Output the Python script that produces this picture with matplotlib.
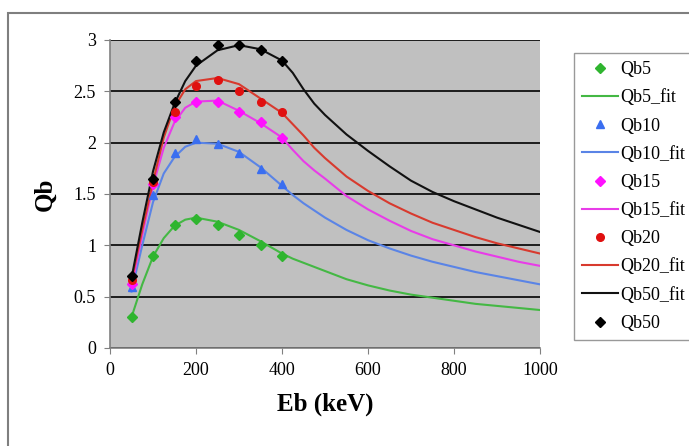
import matplotlib
matplotlib.use("Agg")
import matplotlib.pyplot as plt
from matplotlib.patches import Rectangle

plt.rcParams["font.family"] = ["Liberation Serif", "DejaVu Serif"]

# measured points
eb = [50, 100, 150, 200, 250, 300, 350, 400]
qb5 = [0.30, 0.90, 1.20, 1.26, 1.20, 1.10, 1.00, 0.90]
qb10 = [0.59, 1.49, 1.90, 2.04, 1.99, 1.90, 1.74, 1.60]
qb15 = [0.62, 1.60, 2.25, 2.40, 2.40, 2.30, 2.20, 2.05]
qb20 = [0.66, 1.62, 2.30, 2.55, 2.61, 2.50, 2.40, 2.30]
qb50 = [0.70, 1.65, 2.40, 2.80, 2.95, 2.95, 2.90, 2.80]

# fitted curves
eb_fit = [50, 75, 100, 125, 150, 175, 200, 250, 300, 350, 400, 425, 450, 475,
          500, 550, 600, 650, 700, 750, 800, 850, 900, 950, 1000]
qb5_fit = [0.30, 0.62, 0.89, 1.07, 1.19, 1.25, 1.27, 1.23, 1.15, 1.04, 0.92, 0.87, 0.83, 0.79,
           0.75, 0.67, 0.61, 0.56, 0.52, 0.49, 0.46, 0.43, 0.41, 0.39, 0.37]
qb10_fit = [0.55, 1.00, 1.42, 1.70, 1.86, 1.96, 2.00, 1.99, 1.91, 1.76, 1.58, 1.49, 1.41, 1.34,
            1.27, 1.15, 1.05, 0.97, 0.90, 0.84, 0.79, 0.74, 0.70, 0.66, 0.62]
qb15_fit = [0.60, 1.10, 1.58, 1.95, 2.20, 2.34, 2.40, 2.41, 2.31, 2.19, 2.05, 1.93, 1.82, 1.73,
            1.65, 1.48, 1.35, 1.24, 1.14, 1.06, 1.00, 0.94, 0.89, 0.84, 0.80]
qb20_fit = [0.65, 1.15, 1.62, 2.05, 2.35, 2.52, 2.60, 2.63, 2.57, 2.43, 2.29, 2.18, 2.07, 1.95,
            1.85, 1.67, 1.53, 1.41, 1.31, 1.22, 1.15, 1.08, 1.02, 0.97, 0.92]
qb50_fit = [0.68, 1.22, 1.72, 2.10, 2.38, 2.60, 2.75, 2.90, 2.95, 2.91, 2.80, 2.68, 2.52, 2.38,
            2.27, 2.08, 1.92, 1.77, 1.63, 1.52, 1.43, 1.35, 1.27, 1.20, 1.13]

fig = plt.figure(figsize=(6.89, 4.46), dpi=100)
ax = fig.add_axes([110 / 689, 1 - 348 / 446, 430 / 689, 308 / 446])
ax.set_facecolor("#c0c0c0")

# outer chart frame
fig.patches.append(Rectangle((8 / 689, -0.05), 1.2, 1 - 13 / 446 + 0.05,
                             transform=fig.transFigure, fill=False,
                             edgecolor="#7f7f7f", linewidth=1.5))

h5, = ax.plot(eb, qb5, "D", color="#2fb52f", ms=5, ls="none", label="Qb5", zorder=4)
f5, = ax.plot(eb_fit, qb5_fit, color="#44b844", lw=1.5, label="Qb5_fit", zorder=3)
h10, = ax.plot(eb, qb10, "^", color="#3a6ef0", ms=6, ls="none", label="Qb10", zorder=4)
f10, = ax.plot(eb_fit, qb10_fit, color="#5a84e6", lw=1.5, label="Qb10_fit", zorder=3)
h15, = ax.plot(eb, qb15, "D", color="#ff10ff", ms=5, ls="none", label="Qb15", zorder=4)
f15, = ax.plot(eb_fit, qb15_fit, color="#e83ce8", lw=1.5, label="Qb15_fit", zorder=3)
h20, = ax.plot(eb, qb20, "o", color="#e01010", ms=5.5, ls="none", label="Qb20", zorder=4)
f20, = ax.plot(eb_fit, qb20_fit, color="#d83a2e", lw=1.5, label="Qb20_fit", zorder=3)
f50, = ax.plot(eb_fit, qb50_fit, color="#111111", lw=1.5, label="Qb50_fit", zorder=3)
h50, = ax.plot(eb, qb50, "D", color="#000000", ms=5, ls="none", label="Qb50", zorder=4)

ax.set_xlim(0, 1000)
ax.set_ylim(0, 3)
ax.set_xticks([0, 200, 400, 600, 800, 1000])
ax.set_yticks([0, 0.5, 1, 1.5, 2, 2.5, 3])
ax.set_yticklabels(["0", "0.5", "1", "1.5", "2", "2.5", "3"])
ax.yaxis.grid(True, color="black", lw=1.2)
ax.set_axisbelow(True)
for s in ["top", "right"]:
    ax.spines[s].set_visible(False)
for s in ["left", "bottom"]:
    ax.spines[s].set_color("#808080")
    ax.spines[s].set_linewidth(1.2)
ax.tick_params(direction="out", length=4, color="#808080", labelsize=13, pad=6)

ax.set_xlabel("Eb (keV)", fontsize=18, fontweight="bold", labelpad=10)
ax.set_ylabel("Qb", fontsize=18, fontweight="bold", labelpad=12)

handles = [h5, f5, h10, f10, h15, f15, h20, f20, f50, h50]
leg = fig.legend(handles=handles, loc="upper left",
                 bbox_to_anchor=(574 / 689, 1 - 53 / 446),
                 fontsize=13, frameon=True, fancybox=False,
                 edgecolor="#808080", handlelength=2.0, handletextpad=0.1,
                 labelspacing=0.62, borderpad=0.45, borderaxespad=0)
leg.get_frame().set_linewidth(1.0)

fig.savefig("out.png", dpi=100)
